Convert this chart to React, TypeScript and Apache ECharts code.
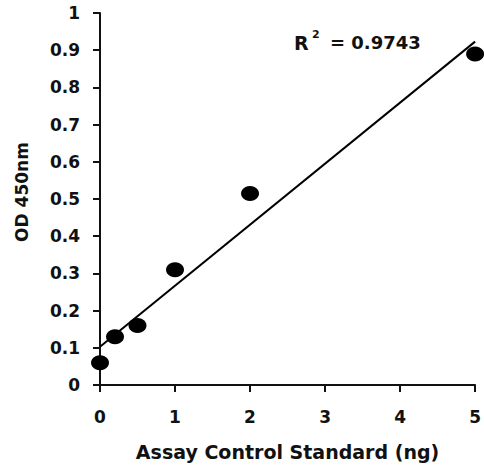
import React, { useEffect, useRef } from "react";
import * as echarts from "echarts";

const xValues = [0, 0.2, 0.5, 1, 2, 5];
const odValues = [0.06, 0.13, 0.16, 0.31, 0.515, 0.89];
const trendX = [0, 5];
const trendY = [0.103, 0.923];
const rSquaredText = "= 0.9743";
const xAxisTitle = "Assay Control Standard (ng)";
const yAxisTitle = "OD 450nm";

const FONT = "DejaVu Sans";
const INK = "#111111";

export default function App() {
  const ref = useRef<HTMLDivElement>(null);
  useEffect(() => {
    if (!ref.current) return;
    const chart = echarts.init(ref.current, undefined, { renderer: "svg" });
    const points = xValues.map((x, i) => [x, odValues[i]]);
    const trend = trendX.map((x, i) => [x, trendY[i]]);
    chart.setOption({
      animation: false,
      backgroundColor: "#ffffff",
      grid: { left: 100, right: 7, top: 13, bottom: 83, containLabel: false },
      xAxis: {
        type: "value",
        min: 0,
        max: 5,
        interval: 1,
        name: xAxisTitle,
        nameLocation: "middle",
        nameGap: 57,
        nameTextStyle: { fontFamily: FONT, fontWeight: "bold", fontSize: 19, color: INK },
        axisLine: { show: true, onZero: false, lineStyle: { color: INK, width: 2 } },
        axisTick: { show: true, length: 7, lineStyle: { color: INK, width: 2 } },
        axisLabel: { fontFamily: FONT, fontWeight: "bold", fontSize: 17, color: INK, margin: 23 },
        splitLine: { show: false },
      },
      yAxis: {
        type: "value",
        min: 0,
        max: 1,
        interval: 0.1,
        name: yAxisTitle,
        nameLocation: "middle",
        nameGap: 70,
        nameRotate: 90,
        nameTextStyle: {
          fontFamily: FONT,
          fontWeight: "bold",
          fontSize: 17,
          color: INK,
          padding: [0, 0, 0, 14],
        },
        axisLine: { show: true, onZero: false, lineStyle: { color: INK, width: 2 } },
        axisTick: { show: true, length: 7, lineStyle: { color: INK, width: 2 } },
        axisLabel: {
          fontFamily: FONT,
          fontWeight: "bold",
          fontSize: 17,
          color: INK,
          margin: 20,
          formatter: (v: number) => String(Math.round(v * 10) / 10),
        },
        splitLine: { show: false },
      },
      graphic: [
        {
          type: "text",
          left: 294,
          top: 33,
          style: { text: "R", fontFamily: FONT, fontWeight: "bold", fontSize: 19, fill: INK },
        },
        {
          type: "text",
          left: 312,
          top: 29,
          style: { text: "2", fontFamily: FONT, fontWeight: "bold", fontSize: 11, fill: INK },
        },
        {
          type: "text",
          left: 330,
          top: 33,
          style: { text: rSquaredText, fontFamily: FONT, fontWeight: "bold", fontSize: 18, fill: INK },
        },
      ],
      series: [
        {
          type: "line",
          data: trend,
          showSymbol: false,
          symbol: "none",
          lineStyle: { color: "#000000", width: 2 },
          clip: false,
          z: 2,
        },
        {
          type: "scatter",
          data: points,
          symbol: "circle",
          symbolSize: [18, 15],
          itemStyle: { color: "#000000", opacity: 1 },
          clip: false,
          z: 3,
        },
      ],
    });
    return () => chart.dispose();
  }, []);
  return (
    <div
      ref={ref}
      style={{ position: "fixed", left: 0, top: 0, width: 484, height: 468, background: "#fff" }}
    />
  );
}
